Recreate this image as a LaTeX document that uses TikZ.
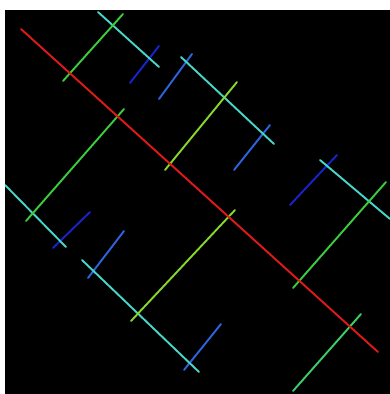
\documentclass[tikz,border=0pt]{standalone}
\begin{document}
\begin{tikzpicture}[x=1pt,y=-1pt,
  seg/.style={line width=1.9pt,line cap=round},
  redl/.style={seg,draw={rgb,255:red,225;green,25;blue,25}},
  grnl/.style={seg,draw={rgb,255:red,60;green,205;blue,60}},
  tgrl/.style={seg,draw={rgb,255:red,60;green,205;blue,100}},
  ygrl/.style={seg,draw={rgb,255:red,135;green,215;blue,45}},
  cyal/.style={seg,draw={rgb,255:red,70;green,215;blue,200}},
  dbll/.style={seg,draw={rgb,255:red,25;green,35;blue,205}},
  lbll/.style={seg,draw={rgb,255:red,45;green,100;blue,220}}]
\useasboundingbox (0,0) rectangle (390,394);
\fill[white] (0,0) rectangle (390,394);
\fill[black] (5,10) rectangle (390,394);
% main red axis
\coordinate (r1) at (21,29);   \coordinate (r2) at (378,352);
% green perpendiculars
\coordinate (ga1) at (63,81);  \coordinate (ga2) at (123,14);
\coordinate (gb1) at (165,170); \coordinate (gb2) at (237,82);
\coordinate (gc1) at (26,221); \coordinate (gc2) at (124,109);
\coordinate (gd1) at (131,321); \coordinate (gd2) at (235,210);
\coordinate (ge1) at (293,288); \coordinate (ge2) at (386,182);
\coordinate (gf1) at (293,391); \coordinate (gf2) at (361,314);
% cyan parallels
\coordinate (ca1) at (98,12);  \coordinate (ca2) at (159,67);
\coordinate (cb1) at (181,57); \coordinate (cb2) at (274,144);
\coordinate (cc1) at (5,185);  \coordinate (cc2) at (66,247);
\coordinate (cd1) at (82,260); \coordinate (cd2) at (199,372);
\coordinate (ce1) at (320,160); \coordinate (ce2) at (390,219);
% blue perpendiculars
\coordinate (ba1) at (130,83); \coordinate (ba2) at (159,46);
\coordinate (bb1) at (159,99); \coordinate (bb2) at (192,54);
\coordinate (bc1) at (234,170); \coordinate (bc2) at (270,125);
\coordinate (bd1) at (53,248); \coordinate (bd2) at (90,212);
\coordinate (be1) at (88,278); \coordinate (be2) at (124,231);
\coordinate (bf1) at (184,370); \coordinate (bf2) at (221,324);
\coordinate (bg1) at (290,205); \coordinate (bg2) at (337,155);
\begin{scope}
\clip (5,10) rectangle (390,394);
\draw[dbll] (ba1) -- (ba2);
\draw[lbll] (bb1) -- (bb2);
\draw[lbll] (bc1) -- (bc2);
\draw[dbll] (bd1) -- (bd2);
\draw[lbll] (be1) -- (be2);
\draw[lbll] (bf1) -- (bf2);
\draw[dbll] (bg1) -- (bg2);
\draw[cyal] (ca1) -- (ca2);
\draw[cyal] (cb1) -- (cb2);
\draw[cyal] (cc1) -- (cc2);
\draw[cyal] (cd1) -- (cd2);
\draw[cyal] (ce1) -- (ce2);
\draw[grnl] (ga1) -- (ga2);
\draw[ygrl] (gb1) -- (gb2);
\draw[grnl] (gc1) -- (gc2);
\draw[ygrl] (gd1) -- (gd2);
\draw[grnl] (ge1) -- (ge2);
\draw[tgrl] (gf1) -- (gf2);
\draw[redl] (r1) -- (r2);
\end{scope}
\end{tikzpicture}
\end{document}
